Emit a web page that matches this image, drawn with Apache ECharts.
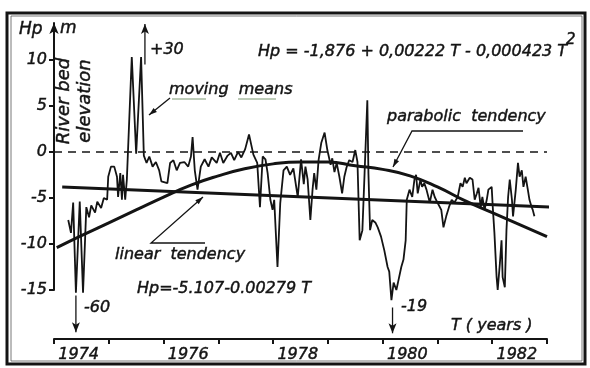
<!DOCTYPE html>
<html>
<head>
<meta charset="utf-8">
<script src="https://cdn.jsdelivr.net/npm/echarts@6/dist/echarts.min.js"></script>
<style>
html, body { margin: 0; padding: 0; background: #fff; }
#chart { width: 590px; height: 368px; }
</style>
</head>
<body>
<div id="chart"></div>
<script>
// moving means (time in years, Hp in m)
var meansT = [1974.26, 1974.31, 1974.35, 1974.40, 1974.47, 1974.53, 1974.59, 1974.64, 1974.68, 1974.75,
    1974.79, 1974.86, 1974.91, 1974.97, 1974.99, 1975.04, 1975.10, 1975.15, 1975.17, 1975.21,
    1975.24, 1975.26, 1975.30, 1975.33, 1975.42, 1975.50, 1975.59, 1975.64, 1975.69, 1975.74,
    1975.80, 1975.86, 1975.92, 1975.96, 1976.07, 1976.12, 1976.18, 1976.24, 1976.30, 1976.38,
    1976.45, 1976.50, 1976.53, 1976.57, 1976.62, 1976.68, 1976.75, 1976.82, 1976.88, 1976.97,
    1977.03, 1977.09, 1977.17, 1977.23, 1977.29, 1977.36, 1977.42, 1977.49, 1977.56, 1977.64,
    1977.71, 1977.76, 1977.81, 1977.86, 1977.90, 1977.95, 1977.99, 1978.02, 1978.08, 1978.13,
    1978.19, 1978.25, 1978.31, 1978.37, 1978.45, 1978.51, 1978.56, 1978.59, 1978.63, 1978.68,
    1978.72, 1978.75, 1978.79, 1978.83, 1978.88, 1978.94, 1978.99, 1979.05, 1979.08, 1979.12,
    1979.16, 1979.21, 1979.26, 1979.30, 1979.34, 1979.39, 1979.45, 1979.50, 1979.54, 1979.58,
    1979.63, 1979.67, 1979.72, 1979.74, 1979.77, 1979.81, 1979.87, 1979.91, 1979.97, 1980.03,
    1980.09, 1980.12, 1980.16, 1980.20, 1980.25, 1980.29, 1980.34, 1980.38, 1980.42, 1980.44,
    1980.49, 1980.54, 1980.58, 1980.61, 1980.64, 1980.69, 1980.72, 1980.76, 1980.80, 1980.86,
    1980.91, 1980.95, 1981.00, 1981.07, 1981.11, 1981.16, 1981.21, 1981.26, 1981.31, 1981.37,
    1981.42, 1981.46, 1981.50, 1981.53, 1981.59, 1981.64, 1981.68, 1981.72, 1981.75, 1981.79,
    1981.82, 1981.86, 1981.90, 1981.93, 1981.99, 1982.01, 1982.04, 1982.08, 1982.10, 1982.14,
    1982.17, 1982.19, 1982.23, 1982.26, 1982.29, 1982.32, 1982.36, 1982.38, 1982.43, 1982.47,
    1982.50, 1982.54, 1982.57, 1982.61, 1982.65, 1982.68, 1982.72, 1982.74, 1982.77];
var meansV = [-7.4, -8.8, -5.5, -15.3, -5.4, -15.3, -6.0, -7.1, -5.8, -6.6,
    -5.4, -6.1, -5.0, -5.2, -2.7, -1.6, -1.6, -2.7, -4.9, -2.3,
    -5.2, -2.5, -5.2, -3.0, 10.3, -0.2, 10.3, -0.4, -1.2, -0.5,
    -1.6, -1.1, -2.0, -3.2, -3.4, -1.2, -0.9, -2.0, -1.2, -1.1,
    -1.6, -0.5, 1.6, -2.0, -4.1, -1.6, -0.8, -1.6, -0.6, -1.2,
    -0.1, -1.2, -0.4, -0.1, -0.9, 0.0, -0.6, 0.3, 1.9, -0.3,
    -1.2, -6.0, -0.5, -0.8, -2.3, -5.2, -6.3, -5.2, -12.5, -5.6,
    -2.0, -1.6, -2.5, -1.8, -4.9, -0.8, -3.5, -1.6, -3.0, -7.4,
    -4.1, -2.3, -4.1, -0.9, 1.0, 2.1, 0.2, -1.4, -0.7, -2.2,
    -1.2, -2.7, -4.5, -2.7, -1.7, -0.9, -1.1, 0.2, -1.1, -9.6,
    -8.5, -2.3, 5.6, -2.3, -8.5, -7.4, -7.7, -8.2, -9.2, -10.7,
    -12.5, -13.0, -16.1, -14.2, -15.0, -13.9, -12.5, -11.7, -9.6, -5.2,
    -4.1, -4.9, -3.0, -2.5, -4.5, -3.0, -3.8, -3.4, -4.1, -5.5,
    -4.1, -4.9, -5.5, -6.3, -8.2, -7.0, -6.0, -5.2, -5.5, -4.9,
    -3.4, -3.8, -2.8, -3.4, -2.8, -3.0, -5.2, -4.5, -3.9, -6.0,
    -4.9, -6.3, -5.2, -4.1, -3.8, -6.0, -8.8, -13.6, -15.0, -12.1,
    -9.6, -13.6, -14.7, -8.5, -4.9, -3.0, -5.2, -7.0, -4.1, -1.2,
    -2.7, -2.0, -3.8, -2.7, -4.1, -5.2, -6.0, -6.3, -7.0];

// parabolic tendency
var parabolaT = [1974.05, 1974.5, 1975.0, 1975.5, 1976.0, 1976.5, 1977.0, 1977.5, 1978.0, 1978.5,
    1979.0, 1979.5, 1980.0, 1980.5, 1981.0, 1981.5, 1982.0, 1982.5, 1983.0];
var parabolaV = [-10.4, -9.1, -7.7, -6.3, -4.9, -3.6, -2.6, -1.8, -1.3, -1.1,
    -1.1, -1.5, -1.9, -2.6, -3.8, -5.3, -6.6, -7.9, -9.2];

// linear tendency, end points of the drawn line
var linearT = [1974.15, 1983.05];
var linearV = [-3.8, -6.0];

// values off the scale, shown as arrows
var offT = [1974.40, 1975.66, 1980.18];
var offV = [-60, 30, -19];
var offFrom = [-15.6, 9.5, -16.9];
var offTo = [-19.6, 13.9, -19.7];

var yTicks = [-15, -10, -5, 0, 5, 10];
var xTicks = [1974, 1975, 1976, 1977, 1978, 1979, 1980, 1981, 1982, 1983];
var yearLabels = [1974, 1976, 1978, 1980, 1982];

function zip(a, b) {
    var out = [];
    for (var i = 0; i < a.length; i++) out.push([a[i], b[i]]);
    return out;
}

var INK = '#141414';
var FONT = 'DejaVu Sans';

function head(x1, y1, x2, y2) {
    var a = Math.atan2(y2 - y1, x2 - x1), len = 8, w = 2.6;
    var bx = x2 - len * Math.cos(a), by = y2 - len * Math.sin(a);
    return {
        type: 'polygon',
        shape: { points: [[x2, y2], [bx + w * Math.sin(a), by - w * Math.cos(a)], [bx - w * Math.sin(a), by + w * Math.cos(a)]] },
        style: { fill: INK }
    };
}
function txt(x, y, s, size, rot) {
    var o = {
        type: 'text', x: x, y: y,
        style: {
            text: s, fill: INK, stroke: INK, lineWidth: 0.45,
            font: 'italic ' + (size || 16) + 'px "' + FONT + '"'
        }
    };
    if (rot) {
        o.rotation = rot;
        o.style.align = 'center';
        o.style.verticalAlign = 'middle';
    }
    return o;
}
function poly(pts, w, color) {
    return { type: 'polyline', shape: { points: pts }, style: { stroke: color || INK, lineWidth: w || 1.3, fill: null } };
}
function offLabel(v) { return (v > 0 ? '+' : '') + v; }

var series = [
    {
        name: 'moving means', type: 'line', xAxisIndex: 0, yAxisIndex: 0,
        data: zip(meansT, meansV), showSymbol: false, clip: false,
        lineStyle: { color: INK, width: 1.8 }
    },
    {
        name: 'parabolic tendency', type: 'line', xAxisIndex: 0, yAxisIndex: 0,
        data: zip(parabolaT, parabolaV), smooth: true, showSymbol: false, clip: false,
        lineStyle: { color: INK, width: 3 }
    },
    {
        name: 'linear tendency', type: 'line', xAxisIndex: 0, yAxisIndex: 0,
        data: zip(linearT, linearV), showSymbol: false, clip: false,
        lineStyle: { color: INK, width: 3 },
        markLine: {
            silent: true, animation: false, symbol: 'none',
            lineStyle: { color: INK, width: 1.5, type: [8, 6] },
            label: { show: false },
            data: [{ yAxis: 0 }]
        }
    }
];
// arrows for the values that run off the scale
for (var i = 0; i < offT.length; i++) {
    series.push({
        name: 'off ' + offV[i], type: 'line', xAxisIndex: 0, yAxisIndex: 0, clip: false,
        showSymbol: true, showAllSymbol: true,
        lineStyle: { color: INK, width: 1.3 },
        itemStyle: { color: INK },
        data: [
            { value: [offT[i], offFrom[i]], symbol: 'none' },
            { value: [offT[i], offTo[i]], symbol: 'arrow', symbolSize: [6, 10], symbolRotate: offTo[i] > offFrom[i] ? 0 : 180 }
        ]
    });
}

var myChart = echarts.init(document.getElementById('chart'));
var option = {
    backgroundColor: '#fff',
    animation: false,
    grid: [
        { left: 54, right: 43, top: 23, bottom: 78 },
        { left: 54, right: 43, top: 330, height: 9 }
    ],
    xAxis: [
        { gridIndex: 0, type: 'value', min: 1974, max: 1983, show: false },
        {
            gridIndex: 1, type: 'value', min: 1974, max: 1983, interval: 1,
            axisLine: { show: true, lineStyle: { color: INK, width: 2 } },
            axisTick: { show: true, length: 5, customValues: xTicks, lineStyle: { color: INK, width: 2 } },
            axisLabel: {
                customValues: yearLabels.map(function (y) { return y + 0.45; }),
                formatter: function (v) { return String(Math.floor(v)); },
                color: INK, fontFamily: FONT, fontStyle: 'italic', fontSize: 16, margin: 8,
                textBorderColor: INK, textBorderWidth: 0.45
            },
            splitLine: { show: false }
        }
    ],
    yAxis: [
        {
            gridIndex: 0, type: 'value', min: -15, max: 14, interval: 5,
            axisLine: { show: true, lineStyle: { color: INK, width: 2 }, symbol: ['none', 'arrow'], symbolSize: [7, 11] },
            axisTick: { show: true, length: 5, customValues: yTicks, lineStyle: { color: INK, width: 2 } },
            axisLabel: {
                customValues: yTicks, color: INK, fontFamily: FONT, fontStyle: 'italic', fontSize: 16, margin: 7,
                textBorderColor: INK, textBorderWidth: 0.45
            },
            splitLine: { show: false }
        },
        { gridIndex: 1, type: 'value', show: false }
    ],
    series: series,
    graphic: [
        // scanned frame
        { type: 'rect', shape: { x: 7, y: 13, width: 578, height: 351 }, style: { fill: null, stroke: INK, lineWidth: 3 } },
        { type: 'rect', shape: { x: 11, y: 16, width: 571, height: 345 }, style: { fill: null, stroke: '#555', lineWidth: 0.8 } },

        txt(19, 21, 'Hp', 17),
        txt(60, 20, 'm', 17),
        txt(64, 101, 'River bed', 18, Math.PI / 2),
        txt(85, 101, 'elevation', 18, Math.PI / 2),

        txt(258, 44, 'Hp = -1,876 + 0,00\u0307222 T - 0,000423 T', 16),
        txt(566, 33, '2', 15),

        txt(150, 42, offLabel(offV[1]), 16),
        txt(84, 300, offLabel(offV[0]), 16),
        txt(401, 299, offLabel(offV[2]), 16),

        txt(169, 82, 'moving  means', 16),
        poly([[172, 99], [206, 99]], 1.2, '#7d9a72'),
        poly([[238, 99], [276, 99]], 1.2, '#7d9a72'),
        poly([[170, 98], [149, 115]]),
        head(170, 98, 149, 115),

        txt(387, 109, 'parabolic  tendency', 16),
        poly([[523, 131], [412, 131], [393, 167]]),
        head(412, 131, 393, 167),

        txt(115, 247, 'linear  tendency', 16),
        poly([[205, 243], [151, 243], [203, 197]]),
        head(151, 243, 203, 197),

        txt(137, 281, 'Hp=-5.107-0.00279 T', 16),
        txt(451, 318, 'T ( years )', 16)
    ]
};
myChart.setOption(option);
</script>
</body>
</html>
